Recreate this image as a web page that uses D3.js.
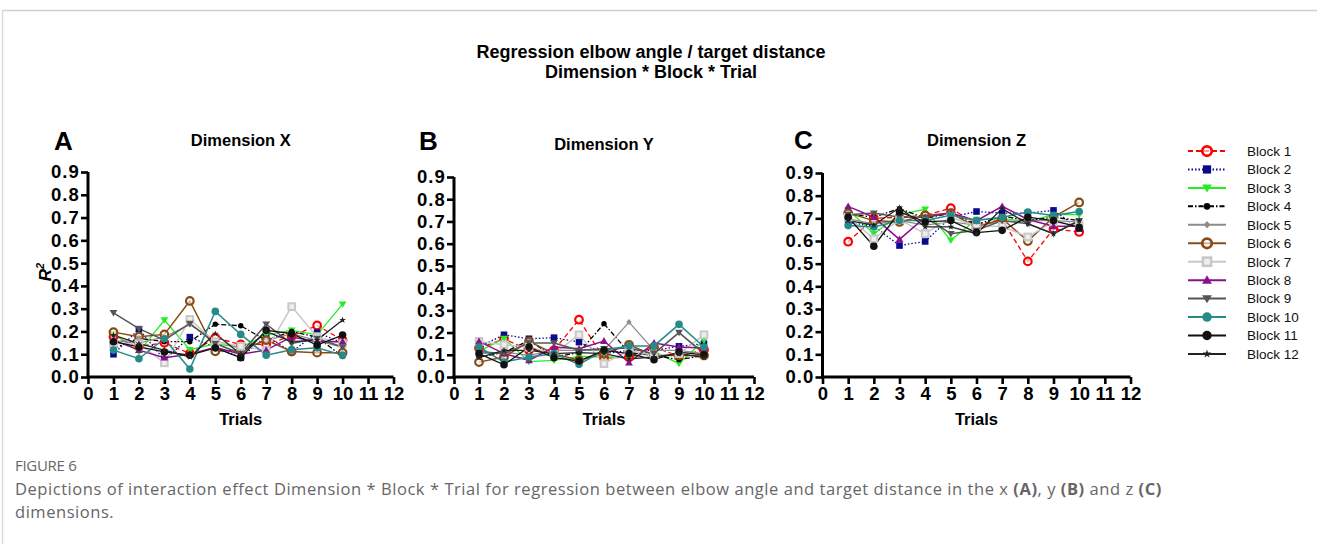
<!DOCTYPE html>
<html><head><meta charset="utf-8">
<script src="https://cdn.jsdelivr.net/npm/d3@7"></script>
<style>
html,body{margin:0;padding:0;background:#fff;}
svg{display:block;}
</style></head>
<body>
<svg id="chart" width="1317" height="544"></svg>
<script>
// ---------------- DATA ----------------
const trials = [1,2,3,4,5,6,7,8,9,10];
const xTicks = [0,1,2,3,4,5,6,7,8,9,10,11,12];
const yTicks = [0.0,0.1,0.2,0.3,0.4,0.5,0.6,0.7,0.8,0.9];
const blocks = ["Block 1","Block 2","Block 3","Block 4","Block 5","Block 6","Block 7","Block 8","Block 9","Block 10","Block 11","Block 12"];
const panelLetters = ["A","B","C"];
const panelTitles = ["Dimension X","Dimension Y","Dimension Z"];

// R² per block (rows) per trial (columns), Dimension X
const dimX = [
  [0.176,0.135,0.150,0.103,0.172,0.143,0.143,0.180,0.226,0.162],
  [0.100,0.210,0.075,0.175,0.130,0.085,0.180,0.110,0.195,0.150],
  [0.190,0.110,0.250,0.120,0.145,0.130,0.185,0.205,0.185,0.320],
  [0.125,0.170,0.155,0.155,0.232,0.225,0.160,0.200,0.175,0.090],
  [0.160,0.150,0.175,0.230,0.160,0.125,0.160,0.190,0.160,0.130],
  [0.197,0.177,0.187,0.334,0.113,0.117,0.162,0.112,0.107,0.107],
  [0.147,0.147,0.062,0.253,0.155,0.135,0.118,0.309,0.176,0.147],
  [0.162,0.118,0.085,0.100,0.130,0.100,0.118,0.176,0.155,0.155],
  [0.282,0.212,0.162,0.235,0.147,0.103,0.232,0.147,0.169,0.132],
  [0.118,0.080,0.168,0.035,0.288,0.187,0.096,0.120,0.128,0.096],
  [0.155,0.132,0.110,0.096,0.128,0.085,0.205,0.190,0.140,0.184],
  [0.184,0.147,0.118,0.088,0.190,0.100,0.200,0.155,0.162,0.250]
];
// Dimension Y
const dimY = [
  [0.130,0.172,0.120,0.120,0.258,0.085,0.090,0.135,0.093,0.123],
  [0.135,0.190,0.172,0.177,0.157,0.105,0.120,0.120,0.138,0.150],
  [0.115,0.174,0.069,0.075,0.093,0.090,0.087,0.115,0.060,0.165],
  [0.090,0.110,0.165,0.090,0.110,0.240,0.110,0.097,0.078,0.097],
  [0.105,0.112,0.097,0.120,0.120,0.120,0.247,0.120,0.120,0.105],
  [0.067,0.090,0.160,0.105,0.075,0.105,0.145,0.097,0.097,0.097],
  [0.160,0.145,0.135,0.105,0.190,0.060,0.120,0.097,0.105,0.190],
  [0.160,0.105,0.075,0.135,0.127,0.162,0.065,0.153,0.135,0.130],
  [0.115,0.105,0.153,0.153,0.120,0.127,0.130,0.105,0.200,0.105],
  [0.135,0.067,0.090,0.105,0.057,0.120,0.140,0.140,0.237,0.135],
  [0.105,0.055,0.135,0.087,0.072,0.120,0.105,0.078,0.112,0.100],
  [0.087,0.120,0.120,0.105,0.110,0.105,0.082,0.090,0.105,0.087]
];
// Dimension Z
const dimZ = [
  [0.597,0.700,0.705,0.713,0.745,0.672,0.694,0.510,0.653,0.640],
  [0.682,0.665,0.580,0.598,0.705,0.730,0.723,0.723,0.735,0.655],
  [0.738,0.632,0.716,0.740,0.603,0.695,0.698,0.687,0.716,0.716],
  [0.720,0.705,0.743,0.700,0.723,0.672,0.710,0.690,0.705,0.690],
  [0.698,0.676,0.690,0.670,0.684,0.670,0.684,0.690,0.690,0.684],
  [0.723,0.690,0.684,0.713,0.723,0.660,0.698,0.600,0.705,0.770],
  [0.705,0.610,0.694,0.632,0.705,0.665,0.665,0.618,0.684,0.672],
  [0.753,0.705,0.607,0.705,0.723,0.690,0.753,0.695,0.665,0.665],
  [0.716,0.723,0.705,0.705,0.632,0.647,0.690,0.676,0.632,0.690],
  [0.668,0.662,0.690,0.690,0.713,0.690,0.705,0.728,0.713,0.730],
  [0.705,0.577,0.728,0.684,0.690,0.637,0.647,0.705,0.690,0.660],
  [0.690,0.670,0.747,0.662,0.662,0.632,0.743,0.676,0.632,0.690]
];
const panelData = [dimX, dimY, dimZ];

// ---------------- STYLES ----------------
const styles = [
  {color:"#ff0000", dash:"5,3", marker:"circleOpen", width:1.3},
  {color:"#0a0a8c", dash:"1.5,2", marker:"square", width:1.3},
  {color:"#22ee22", dash:null, marker:"triDown", width:1.3},
  {color:"#000000", dash:"5,2,1.5,2", marker:"dot", width:1.3},
  {color:"#8c8c8c", dash:null, marker:"diamond", width:1.3},
  {color:"#8b4a14", dash:null, marker:"circleOpen", width:1.5},
  {color:"#c8c8c8", dash:null, marker:"squareOpen", width:1.5},
  {color:"#8b108b", dash:null, marker:"triUp", width:1.5},
  {color:"#555555", dash:null, marker:"triDown", width:1.5},
  {color:"#258a8a", dash:null, marker:"circle", width:1.5},
  {color:"#111111", dash:null, marker:"circle", width:1.3},
  {color:"#222222", dash:null, marker:"star", width:1.3}
];

const layout = [
  {x0:88, x1:393.5, y0:377, y1:172, letterX:54, letterY:150, titleY:146},
  {x0:454, x1:754, y0:377, y1:177, letterX:419, letterY:150, titleY:150},
  {x0:822.5, x1:1130.5, y0:377, y1:173, letterX:794, letterY:149, titleY:146}
];

const svg = d3.select("#chart");
const FONT = "'Liberation Sans', Arial, Helvetica, sans-serif";

// card border
svg.append("line").attr("x1",2).attr("x2",1317).attr("y1",10.5).attr("y2",10.5).attr("stroke","#cfcfcf").attr("stroke-width",1.5);
svg.append("line").attr("x1",2.5).attr("x2",2.5).attr("y1",10).attr("y2",544).attr("stroke","#dcdcdc").attr("stroke-width",1.5);

// main title
svg.append("text").attr("x",651).attr("y",58).attr("text-anchor","middle")
  .attr("font-family",FONT).attr("font-weight","bold").attr("font-size",18).attr("fill","#000")
  .text("Regression elbow angle / target distance");
svg.append("text").attr("x",651).attr("y",78).attr("text-anchor","middle")
  .attr("font-family",FONT).attr("font-weight","bold").attr("font-size",18).attr("fill","#000")
  .text("Dimension * Block * Trial");

function drawMarker(g, type, cx, cy, color, s) {
  s = s || 1;
  switch(type){
    case "circleOpen":
      g.append("circle").attr("cx",cx).attr("cy",cy).attr("r",3.8*s).attr("fill","#fff").attr("fill-opacity",0.6).attr("stroke",color).attr("stroke-width",2.2*s); break;
    case "circle":
      g.append("circle").attr("cx",cx).attr("cy",cy).attr("r",3.8*s).attr("fill",color); break;
    case "dot":
      g.append("circle").attr("cx",cx).attr("cy",cy).attr("r",2.7*s).attr("fill",color); break;
    case "square":
      g.append("rect").attr("x",cx-3.3*s).attr("y",cy-3.3*s).attr("width",6.6*s).attr("height",6.6*s).attr("fill",color); break;
    case "squareOpen":
      g.append("rect").attr("x",cx-3.3*s).attr("y",cy-3.3*s).attr("width",6.6*s).attr("height",6.6*s).attr("fill","#eee").attr("stroke",color).attr("stroke-width",2*s); break;
    case "triDown":
      g.append("path").attr("d",`M${cx-3.9*s},${cy-2.7*s}L${cx+3.9*s},${cy-2.7*s}L${cx},${cy+3.7*s}Z`).attr("fill",color); break;
    case "triUp":
      g.append("path").attr("d",`M${cx-3.9*s},${cy+2.9*s}L${cx+3.9*s},${cy+2.9*s}L${cx},${cy-3.9*s}Z`).attr("fill",color); break;
    case "diamond":
      g.append("path").attr("d",`M${cx},${cy-3*s}L${cx+2.6*s},${cy}L${cx},${cy+3*s}L${cx-2.6*s},${cy}Z`).attr("fill",color); break;
    case "star":
      g.append("path").attr("transform",`translate(${cx},${cy})`).attr("d",d3.symbol(d3.symbolStar, 14*s*s)()).attr("fill",color); break;
  }
}

layout.forEach((L, p) => {
  const g = svg.append("g");
  const x = d3.scaleLinear().domain([0,12]).range([L.x0, L.x1]);
  const y = d3.scaleLinear().domain([0,0.9]).range([L.y0, L.y1]);

  // letter + title
  g.append("text").attr("x",L.letterX).attr("y",L.letterY).attr("font-family",FONT).attr("font-weight","bold")
    .attr("font-size",26).text(panelLetters[p]);
  g.append("text").attr("x",(L.x0+L.x1)/2).attr("y",L.titleY).attr("text-anchor","middle").attr("font-family",FONT)
    .attr("font-weight","bold").attr("font-size",16.5).text(panelTitles[p]);

  // axes
  const xAxis = d3.axisBottom(x).tickValues(xTicks).tickFormat(d3.format("d")).tickSize(7).tickPadding(3);
  const yAxis = d3.axisLeft(y).tickValues(yTicks).tickFormat(d3.format(".1f")).tickSize(7).tickPadding(1);
  const gx = g.append("g").attr("transform",`translate(0,${L.y0})`).call(xAxis);
  const gy = g.append("g").attr("transform",`translate(${L.x0},0)`).call(yAxis);
  [gx,gy].forEach(a=>{
    a.select(".domain").attr("stroke","#000").attr("stroke-width",3);
    a.selectAll(".tick line").attr("stroke","#000").attr("stroke-width",2.6);
    a.selectAll(".tick text").attr("font-family",FONT).attr("font-weight","bold").attr("font-size",18.5).attr("fill","#000");
  });
  gy.selectAll(".tick text").attr("letter-spacing",1.1);
  gx.select(".domain").attr("d",`M${L.x0-1.5},0H${L.x1}`);
  gy.select(".domain").attr("d",`M0,${L.y1}V${L.y0+1.5}`);

  // axis titles
  g.append("text").attr("x",(L.x0+L.x1)/2).attr("y",425).attr("text-anchor","middle").attr("font-family",FONT)
    .attr("font-weight","bold").attr("font-size",16.5).text("Trials");
  if (p===0) {
    const t = g.append("text").attr("transform",`translate(51,272) rotate(-90)`).attr("text-anchor","middle")
      .attr("font-family",FONT).attr("font-weight","bold").attr("font-style","italic").attr("font-size",17);
    t.append("tspan").text("R");
    t.append("tspan").attr("font-size",11).attr("dy",-7).text("2");
  }

  // series
  const line = d3.line().x((d,i)=>x(trials[i])).y(d=>y(d));
  panelData[p].forEach((vals, b) => {
    const st = styles[b];
    g.append("path").datum(vals).attr("d",line).attr("fill","none").attr("stroke",st.color)
      .attr("stroke-width",st.width).attr("stroke-dasharray",st.dash);
  });
  panelData[p].forEach((vals, b) => {
    const st = styles[b];
    const mg = g.append("g");
    vals.forEach((v,i)=>drawMarker(mg, st.marker, x(trials[i]), y(v), st.color, 1));
  });
});

// legend
const legY0 = 151, legStep = 18.45;
blocks.forEach((name, b) => {
  const st = styles[b];
  const yy = legY0 + b*legStep;
  const lg = svg.append("g");
  lg.append("line").attr("x1",1188).attr("x2",1226).attr("y1",yy).attr("y2",yy).attr("stroke",st.color)
    .attr("stroke-width",2).attr("stroke-dasharray",st.dash ? st.dash : null);
  drawMarker(lg, st.marker, 1207, yy, st.color, 1.25);
  lg.append("text").attr("x",1247).attr("y",yy+4.8).attr("font-family",FONT).attr("font-size",13.5).attr("fill","#111").text(name);
});

// caption
const CAP = "'Open Sans', 'Noto Sans', sans-serif";
svg.append("text").attr("x",15).attr("y",471).attr("font-family",CAP).attr("font-size",15).attr("fill","#666")
  .attr("letter-spacing",-0.3).text("FIGURE 6");
const c1 = svg.append("text").attr("x",15).attr("y",495).attr("font-family",CAP).attr("font-size",16.5).attr("fill","#666").attr("letter-spacing",0.55);
c1.append("tspan").text("Depictions of interaction effect Dimension * Block * Trial for regression between elbow angle and target distance in the x ");
c1.append("tspan").attr("font-weight","bold").text("(A)");
c1.append("tspan").text(", y ");
c1.append("tspan").attr("font-weight","bold").text("(B)");
c1.append("tspan").text(" and z ");
c1.append("tspan").attr("font-weight","bold").text("(C)");
svg.append("text").attr("x",15).attr("y",518).attr("font-family",CAP).attr("font-size",16.5).attr("fill","#666").attr("letter-spacing",0.55)
  .text("dimensions.");
</script>
</body></html>
